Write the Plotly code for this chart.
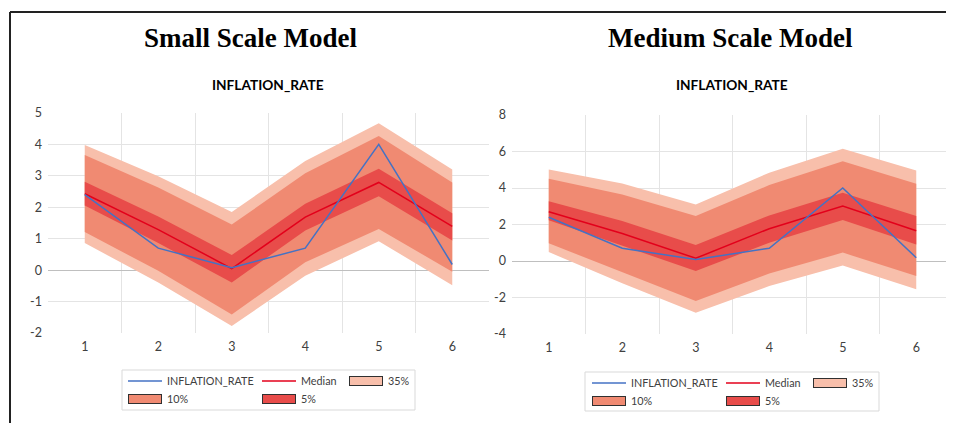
import plotly.graph_objects as go

# The page body keeps its default 8px margin, so the figure is drawn 8px in from the
# top-left corner of the 954x423 window; it is sized to fill the rest of the window.
OFF = 8
W, H = 954 - OFF, 423 - OFF

periods = [1, 2, 3, 4, 5, 6]
actual = [2.4, 0.7, 0.08, 0.7, 4.0, 0.18]

small_median = [2.43, 1.29, 0.05, 1.69, 2.79, 1.39]
small_lo5 = [2.06, 0.86, -0.39, 1.26, 2.35, 0.94]
small_hi5 = [2.81, 1.71, 0.48, 2.11, 3.23, 1.81]
small_lo10 = [1.21, -0.02, -1.41, 0.25, 1.31, -0.05]
small_hi10 = [3.66, 2.63, 1.45, 3.08, 4.27, 2.79]
small_lo35 = [0.86, -0.39, -1.78, -0.18, 0.92, -0.48]
small_hi35 = [3.98, 2.99, 1.85, 3.47, 4.67, 3.20]

med_median = [2.70, 1.51, 0.15, 1.77, 3.01, 1.66]
med_lo5 = [2.23, 0.86, -0.55, 1.00, 2.24, 0.91]
med_hi5 = [3.27, 2.19, 0.88, 2.50, 3.74, 2.46]
med_lo10 = [0.97, -0.60, -2.19, -0.69, 0.46, -0.82]
med_hi10 = [4.51, 3.65, 2.46, 4.16, 5.47, 4.23]
med_lo35 = [0.49, -1.22, -2.83, -1.37, -0.24, -1.55]
med_hi35 = [5.02, 4.25, 3.10, 4.84, 6.15, 4.96]

small_yticks = [-2, -1, 0, 1, 2, 3, 4, 5]
small_yticktext = ["-2", "-1", "0", "1", "2", "3", "4", "5"]
med_yticks = [-4, -2, 0, 2, 4, 6, 8]
med_yticktext = ["-4", "-2", "0", "2", "4", "6", "8"]
xticktext = ["1", "2", "3", "4", "5", "6"]
band_names = ["35%", "10%", "5%"]

C35 = "#F8BFAB"
C10 = "#F08A72"
C5 = "#E84C4A"
CMED = "#E3001B"
CACT = "#4472C4"
TXT = "#404040"
EDGE = "#303030"
FONT = "Lato"

fig = go.Figure()


def px_x(p):
    return (p - OFF) / W


def px_y(p):
    return 1 - (p - OFF) / H


def add_panel(xa, ya, lo35, hi35, lo10, hi10, lo5, hi5, med, legs):
    cols = [C35, C10, C5]
    for lo, hi, col in [(lo35, hi35, C35), (lo10, hi10, C10), (lo5, hi5, C5)]:
        fig.add_trace(go.Scatter(x=periods, y=lo, mode="lines", line=dict(width=0, color=col),
                                 showlegend=False, hoverinfo="skip", xaxis=xa, yaxis=ya))
        fig.add_trace(go.Scatter(x=periods, y=hi, mode="lines", line=dict(width=0, color=col),
                                 fill="tonexty", fillcolor=col, showlegend=False,
                                 hoverinfo="skip", xaxis=xa, yaxis=ya))
    fig.add_trace(go.Scatter(x=periods, y=med, mode="lines", name="Median",
                             line=dict(color=CMED, width=1.5), xaxis=xa, yaxis=ya,
                             legend=legs[1]))
    fig.add_trace(go.Scatter(x=periods, y=actual, mode="lines", name="INFLATION_RATE",
                             line=dict(color=CACT, width=1.5), xaxis=xa, yaxis=ya,
                             legend=legs[0]))
    # legend swatches for the bands: dark outline entry with the label, and a
    # slightly smaller coloured swatch laid over it
    for i, (name, col) in enumerate(zip(band_names, cols)):
        fig.add_trace(go.Scatter(x=[None], y=[None], mode="lines", name=name,
                                 line=dict(color=EDGE, width=10), xaxis=xa, yaxis=ya,
                                 legend=legs[2 + i]))
        fig.add_trace(go.Scatter(x=[None], y=[None], mode="lines", name=" ",
                                 line=dict(color=col, width=8), xaxis=xa, yaxis=ya,
                                 legend=legs[5 + i]))


L = ["legend"] + ["legend%d" % i for i in range(2, 17)]
add_panel("x", "y", small_lo35, small_hi35, small_lo10, small_hi10, small_lo5, small_hi5,
          small_median, L[0:8])
add_panel("x2", "y2", med_lo35, med_hi35, med_lo10, med_hi10, med_lo5, med_hi5,
          med_median, L[8:16])

shapes = []
# frame and legend boxes
shapes.append(dict(type="line", xref="paper", yref="paper", x0=px_x(10), x1=1,
                   y0=px_y(12), y1=px_y(12), line=dict(color="#222222", width=2)))
shapes.append(dict(type="line", xref="paper", yref="paper", x0=px_x(10), x1=px_x(10),
                   y0=px_y(12), y1=0, line=dict(color="#222222", width=2)))
shapes.append(dict(type="rect", xref="paper", yref="paper", x0=px_x(122), x1=px_x(415),
                   y0=px_y(410), y1=px_y(370), line=dict(color="#D9D9D9", width=1)))
shapes.append(dict(type="rect", xref="paper", yref="paper", x0=px_x(585), x1=px_x(879),
                   y0=px_y(411), y1=px_y(372), line=dict(color="#D9D9D9", width=1)))


def leg(px, py, iw=34):
    return dict(x=px_x(px), y=px_y(py), xanchor="left", yanchor="middle",
                bgcolor="rgba(0,0,0,0)", borderwidth=0, itemwidth=iw,
                font=dict(family=FONT, size=10.8, color=TXT), orientation="h")


def legends(x0, y1, y2):
    # entries: actual, median, 35%, 10%, 5% (outline), then inner swatches 35%, 10%, 5%
    pos = [(x0, y1), (x0 + 134, y1), (x0 + 221, y1), (x0, y2), (x0 + 134, y2)]
    out = [leg(x, y) for x, y in pos]
    out += [leg(x + 1, y, 32) for x, y in pos[2:]]
    return out


cfg = legends(123, 381, 399) + legends(587, 383, 401)
leg_layout = {name: c for name, c in zip(L, cfg)}

grid = "#E4E4E4"


def xaxis(dom):
    return dict(domain=dom, range=[0.5, 6.5], tickmode="array", tickvals=periods,
                ticktext=xticktext, automargin=False,
                showgrid=False, zeroline=False, showline=False, ticks="",
                tickfont=dict(family=FONT, size=12.5, color=TXT), ticklabelstandoff=4,
                minor=dict(tickmode="array", tickvals=[1.5, 2.5, 3.5, 4.5, 5.5],
                           showgrid=True, gridcolor=grid, gridwidth=1, ticks=""),
                fixedrange=True)


def yaxis(dom, rng, ticks, text, gridvals):
    return dict(domain=dom, range=rng, tickmode="array", tickvals=ticks, ticktext=text,
                automargin=False,
                showgrid=False, zeroline=True, zerolinecolor="#BFBFBF", zerolinewidth=1,
                showline=False, ticks="", ticklabelstandoff=5,
                tickfont=dict(family=FONT, size=12.5, color=TXT),
                minor=dict(tickmode="array", tickvals=gridvals, showgrid=True,
                           gridcolor=grid, gridwidth=1, ticks=""),
                fixedrange=True)


fig.update_layout(
    width=W, height=H, margin=dict(l=0, r=0, t=0, b=0, autoexpand=False),
    paper_bgcolor="white", plot_bgcolor="white",
    xaxis=dict(xaxis([px_x(48), px_x(489)]), anchor="y"),
    yaxis=dict(yaxis([px_y(333), px_y(113)], [-2, 5], small_yticks, small_yticktext,
                     [-1, 1, 2, 3, 4]), anchor="x"),
    xaxis2=dict(xaxis([px_x(512), px_x(953)]), anchor="y2"),
    yaxis2=dict(yaxis([px_y(334), px_y(115)], [-4, 8], med_yticks, med_yticktext,
                      [-2, 2, 4, 6]), anchor="x2"),
    shapes=shapes,
    showlegend=True,
    annotations=[
        dict(text="<b>Small Scale Model</b>", x=px_x(250), y=px_y(38), xref="paper", yref="paper",
             showarrow=False, xanchor="center", yanchor="middle",
             font=dict(family="Liberation Serif", size=27, color="black")),
        dict(text="<b>Medium Scale Model</b>", x=px_x(730), y=px_y(38), xref="paper", yref="paper",
             showarrow=False, xanchor="center", yanchor="middle",
             font=dict(family="Liberation Serif", size=27, color="black")),
        dict(text="<b>INFLATION_RATE</b>", x=px_x(268), y=px_y(84), xref="paper", yref="paper",
             showarrow=False, xanchor="center", yanchor="middle",
             font=dict(family=FONT, size=13.7, color="black")),
        dict(text="<b>INFLATION_RATE</b>", x=px_x(732), y=px_y(84), xref="paper", yref="paper",
             showarrow=False, xanchor="center", yanchor="middle",
             font=dict(family=FONT, size=13.7, color="black")),
    ],
)
fig.update_layout(**leg_layout)

fig.write_html("out.html", config={"displayModeBar": False})
